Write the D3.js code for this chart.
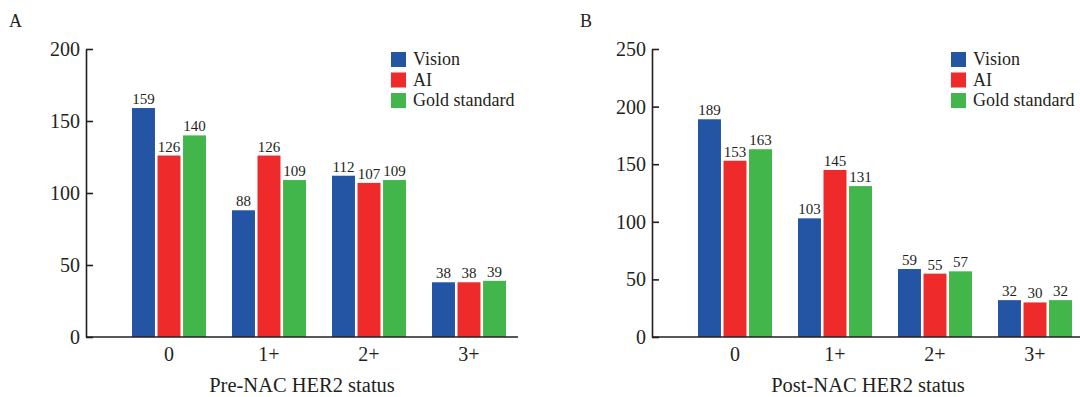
<!DOCTYPE html>
<html>
<head>
<meta charset="utf-8">
<script src="https://cdn.jsdelivr.net/npm/d3@7"></script>
<style>
  html, body { margin: 0; padding: 0; background: #fff; }
  svg { display: block; }
  svg text { fill: #231f20; font-family: "Liberation Serif", "Times New Roman", serif !important; }
</style>
</head>
<body>
<svg id="chart" width="1080" height="397"></svg>
<script>
const categories = ["0", "1+", "2+", "3+"];
const seriesNames = ["Vision", "AI", "Gold standard"];
const seriesColors = ["#2454a4", "#ee2a2b", "#42b64a"];

const preVision = [159, 88, 112, 38];
const preAI = [126, 126, 107, 38];
const preGold = [140, 109, 109, 39];

const postVision = [189, 103, 59, 32];
const postAI = [153, 145, 55, 30];
const postGold = [163, 131, 57, 32];

const preTicks = [0, 50, 100, 150, 200];
const postTicks = [0, 50, 100, 150, 200, 250];

const svg = d3.select("#chart");
const ink = "#231f20";
const serif = "Liberation Serif, Times New Roman, serif";

function panel(cfg) {
  const g = svg.append("g");
  const y = d3.scaleLinear().domain([0, cfg.max]).range([337, 49]);
  const x0 = d3.scaleBand().domain(categories).range([cfg.axisX + 33, cfg.axisX + 433]).padding(0);
  const x1 = d3.scaleBand().domain(seriesNames).range([-37, 37]).paddingInner(0.1);

  g.append("text").attr("x", cfg.letterX).attr("y", 27)
    .style("font-size", "18px").text(cfg.letter);

  const series = [cfg.vision, cfg.ai, cfg.gold];
  categories.forEach((c, i) => {
    const cx = x0(c) + x0.bandwidth() / 2;
    seriesNames.forEach((s, j) => {
      const v = series[j][i];
      g.append("rect")
        .attr("x", cx + x1(s))
        .attr("y", y(v))
        .attr("width", x1.bandwidth())
        .attr("height", y(0) - y(v))
        .attr("fill", seriesColors[j]);
      g.append("text")
        .attr("x", cx + x1(s) + x1.bandwidth() / 2)
        .attr("y", y(v) - 4)
        .attr("text-anchor", "middle")
        .style("font-size", "15px")
        .text(v);
    });
  });

  const ya = g.append("g").attr("transform", `translate(${cfg.axisX},0)`)
    .call(d3.axisLeft(y).tickValues(cfg.ticks).tickSizeInner(-7).tickSizeOuter(0).tickPadding(6));
  ya.attr("font-family", serif).attr("font-size", null);
  ya.selectAll("path, line").attr("stroke", ink).attr("stroke-width", 1.6);
  ya.selectAll("text").attr("font-family", serif).style("font-size", "20px").attr("fill", ink);

  g.append("line").attr("x1", cfg.axisX).attr("x2", cfg.axisX + 432)
    .attr("y1", y(0)).attr("y2", y(0)).attr("stroke", ink).attr("stroke-width", 1.6);
  const xa = g.append("g").attr("transform", `translate(0,${y(0)})`)
    .call(d3.axisBottom(x0).tickSize(0).tickPadding(10));
  xa.attr("font-family", serif).attr("font-size", null);
  xa.select(".domain").remove();
  xa.selectAll("text").attr("font-family", serif).style("font-size", "20px").attr("fill", ink);

  g.append("text").attr("x", cfg.axisX + 216).attr("y", 392)
    .attr("text-anchor", "middle").style("font-size", "20.5px").text(cfg.title);

  seriesNames.forEach((s, j) => {
    g.append("rect").attr("x", cfg.legendX).attr("y", 52 + j * 20.5)
      .attr("width", 15).attr("height", 15).attr("fill", seriesColors[j]);
    g.append("text").attr("x", cfg.legendX + 22).attr("y", 65 + j * 20.5)
      .style("font-size", "18px").text(s);
  });
}

panel({ letter: "A", letterX: 9, axisX: 86, max: 200, ticks: preTicks,
  vision: preVision, ai: preAI, gold: preGold, title: "Pre-NAC HER2 status", legendX: 391 });
panel({ letter: "B", letterX: 580, axisX: 652, max: 250, ticks: postTicks,
  vision: postVision, ai: postAI, gold: postGold, title: "Post-NAC HER2 status", legendX: 951 });
</script>
</body>
</html>
